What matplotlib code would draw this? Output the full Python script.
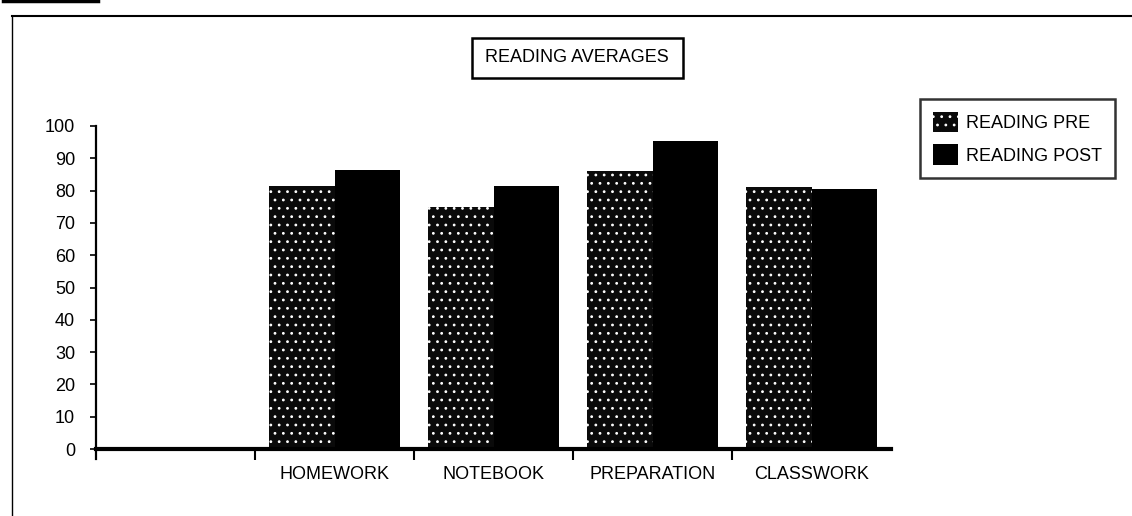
import matplotlib

matplotlib.use("Agg")
import numpy as np
import matplotlib.pyplot as plt
from matplotlib.patches import Rectangle, Patch
from matplotlib.lines import Line2D

# values
categories = ["HOMEWORK", "NOTEBOOK", "PREPARATION", "CLASSWORK"]
reading_pre = [81.5, 75, 86, 81]
reading_post = [86.5, 81.5, 95.5, 80.5]
series_names = ["READING PRE", "READING POST"]
y_ticks = [0, 10, 20, 30, 40, 50, 60, 70, 80, 90, 100]
chart_title = "READING AVERAGES"

W, H = 1132, 516


def fx(px):
    return px / W


def fy(py):
    return 1 - py / H


plt.rcParams["font.family"] = ["Liberation Sans", "DejaVu Sans"]
plt.rcParams["hatch.color"] = "white"
plt.rcParams["hatch.linewidth"] = 0.8

fig = plt.figure(figsize=(W / 100, H / 100), dpi=100)
fig.patch.set_facecolor("white")

ax = fig.add_axes([fx(96), fy(449), fx(891) - fx(96), fy(126) - fy(449)])

# first category slot is left empty in the original
x = np.arange(1, len(categories) + 1)
bw = 0.41

ax.bar(x - bw / 2, reading_pre, width=bw, color="#0a0a0a",
       edgecolor="white", linewidth=0, hatch="..")
ax.bar(x + bw / 2, reading_post, width=bw, color="black",
       edgecolor="black", linewidth=0)

ax.set_xlim(-0.5, len(categories) + 0.5)
ax.set_ylim(0, 100)

for s in ["top", "right"]:
    ax.spines[s].set_visible(False)
ax.spines["left"].set_linewidth(1.6)
ax.spines["left"].set_bounds(-3.2, 100)
ax.spines["bottom"].set_linewidth(3)

ax.set_yticks(y_ticks)
ax.set_yticklabels([str(v) for v in y_ticks])
ax.tick_params(axis="y", direction="out", length=4, width=1.2,
               pad=11, labelsize=13)

# tick marks at the category boundaries, names at the centres
ax.set_xticks(np.arange(0.5, len(categories)))
ax.set_xticklabels([])
ax.set_xticks(x, minor=True)
ax.set_xticklabels(categories, minor=True)
ax.tick_params(axis="x", which="major", direction="out", length=8, width=1.5)
ax.tick_params(axis="x", which="minor", length=0, pad=12, labelsize=13)

# title in its own box
fig.patches.append(Rectangle((fx(472), fy(78)), fx(683) - fx(472), fy(38) - fy(78),
                             transform=fig.transFigure, fill=False,
                             edgecolor="black", linewidth=1.8))
fig.text(fx(577), fy(58), chart_title, ha="center", va="center", fontsize=13)

handles = [
    Patch(facecolor="#0a0a0a", edgecolor="white", linewidth=0, hatch=".."),
    Patch(facecolor="black", edgecolor="black", linewidth=0),
]
leg = fig.legend(handles, series_names, loc="upper left",
                 bbox_to_anchor=(fx(920), fy(99)), borderaxespad=0,
                 fontsize=13, handlelength=1.4, handleheight=1.4,
                 handletextpad=0.45, labelspacing=0.65, borderpad=0.7,
                 fancybox=False, frameon=True)
leg.get_frame().set_edgecolor("black")
leg.get_frame().set_linewidth(1.8)

# page frame lines from the scan
fig.add_artist(Line2D([fx(12), fx(1132)], [fy(16), fy(16)], color="black", linewidth=1.5))
fig.add_artist(Line2D([fx(12), fx(12)], [fy(16), fy(516)], color="black", linewidth=1.0))
fig.add_artist(Line2D([fx(3), fx(98)], [fy(1), fy(1)], color="black", linewidth=2.5))

fig.savefig("out.png", dpi=100, facecolor="white")
